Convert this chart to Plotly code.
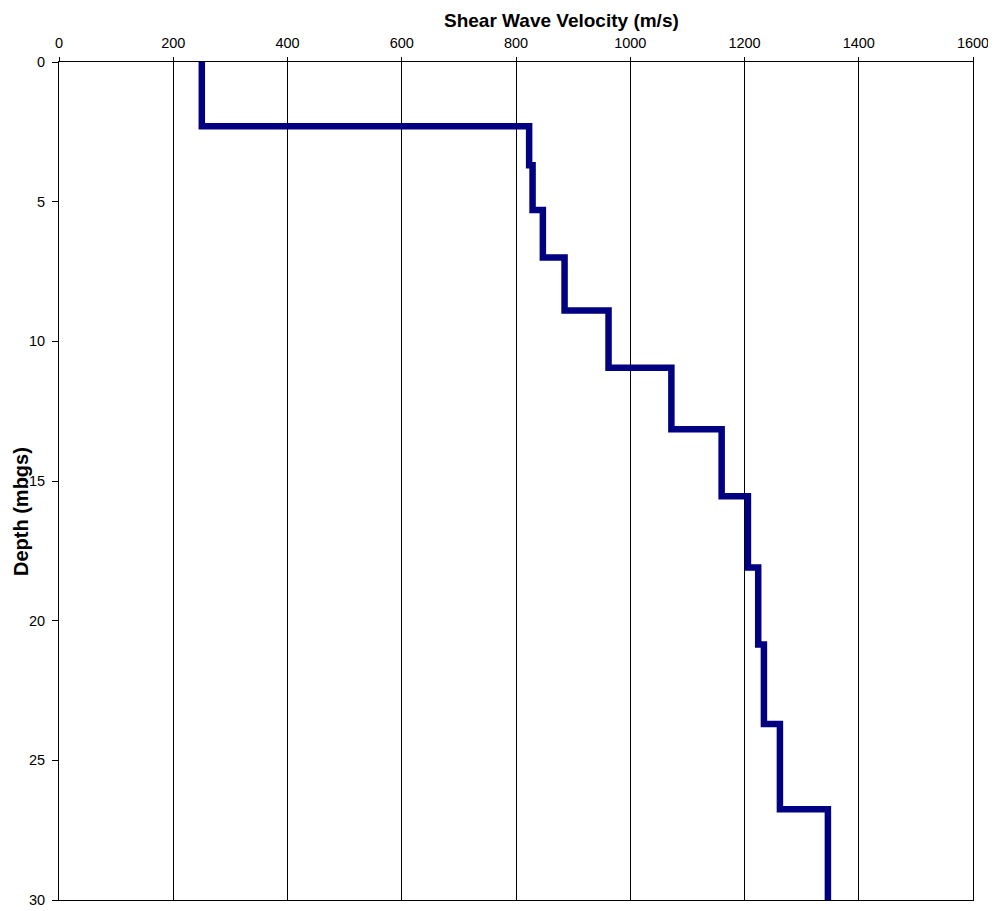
import plotly.graph_objects as go

# Layer tops (m below ground surface) and shear wave velocity of each layer (m/s)
layer_top_depth = [0.0, 2.3, 3.7, 5.3, 7.0, 8.9, 10.95, 13.15, 15.55, 18.1, 20.85, 23.7, 26.75]
layer_velocity = [250, 823, 829, 847, 885, 962, 1072, 1160, 1206, 1224, 1234, 1262, 1346]
profile_bottom = 30.0

x_ticks = [0, 200, 400, 600, 800, 1000, 1200, 1400, 1600]
y_ticks = [0, 5, 10, 15, 20, 25, 30]

xs = layer_velocity + [layer_velocity[-1]]
ys = layer_top_depth + [profile_bottom]

FONT = "Arial, Liberation Sans, sans-serif"

fig = go.Figure()
fig.add_trace(go.Scatter(
    x=xs, y=ys, mode="lines", line_shape="vh",
    line=dict(color="#000080", width=6.5),
    showlegend=False, hoverinfo="x+y",
))

# page body has an 8 px default margin, so the figure is 8 px smaller and margins shifted
fig.update_layout(
    width=988, height=903,
    margin=dict(l=51, r=23, t=54, b=11, autoexpand=False),
    paper_bgcolor="white", plot_bgcolor="white",
    font=dict(family=FONT, size=14, color="black"),
    xaxis=dict(
        side="top", range=[0, 1600], tickvals=x_ticks,
        showgrid=True, gridcolor="black", gridwidth=1,
        showline=True, linecolor="black", linewidth=1, mirror=True,
        ticks="outside", ticklen=4, tickcolor="black",
        zeroline=False, tickfont=dict(size=14.5), automargin=False,
        ticklabelstandoff=3,
    ),
    yaxis=dict(
        range=[30, 0], tickvals=y_ticks,
        showgrid=False,
        showline=True, linecolor="black", linewidth=1, mirror=True,
        ticks="outside", ticklen=6, tickcolor="black",
        zeroline=False, tickfont=dict(size=14.5), automargin=False,
        ticklabelstandoff=4,
    ),
    annotations=[
        dict(text="<b>Shear Wave Velocity (m/s)</b>", x=0.55, y=1, xref="paper", yref="paper",
             yshift=42, showarrow=False, font=dict(family=FONT, size=19), xanchor="center", yanchor="middle"),
        dict(text="<b>Depth (mbgs)</b>", x=0, y=0.463, xref="paper", yref="paper",
             xshift=-38, showarrow=False, textangle=-90, font=dict(family=FONT, size=20),
             xanchor="center", yanchor="middle"),
    ],
)

fig.write_html("out.html")
